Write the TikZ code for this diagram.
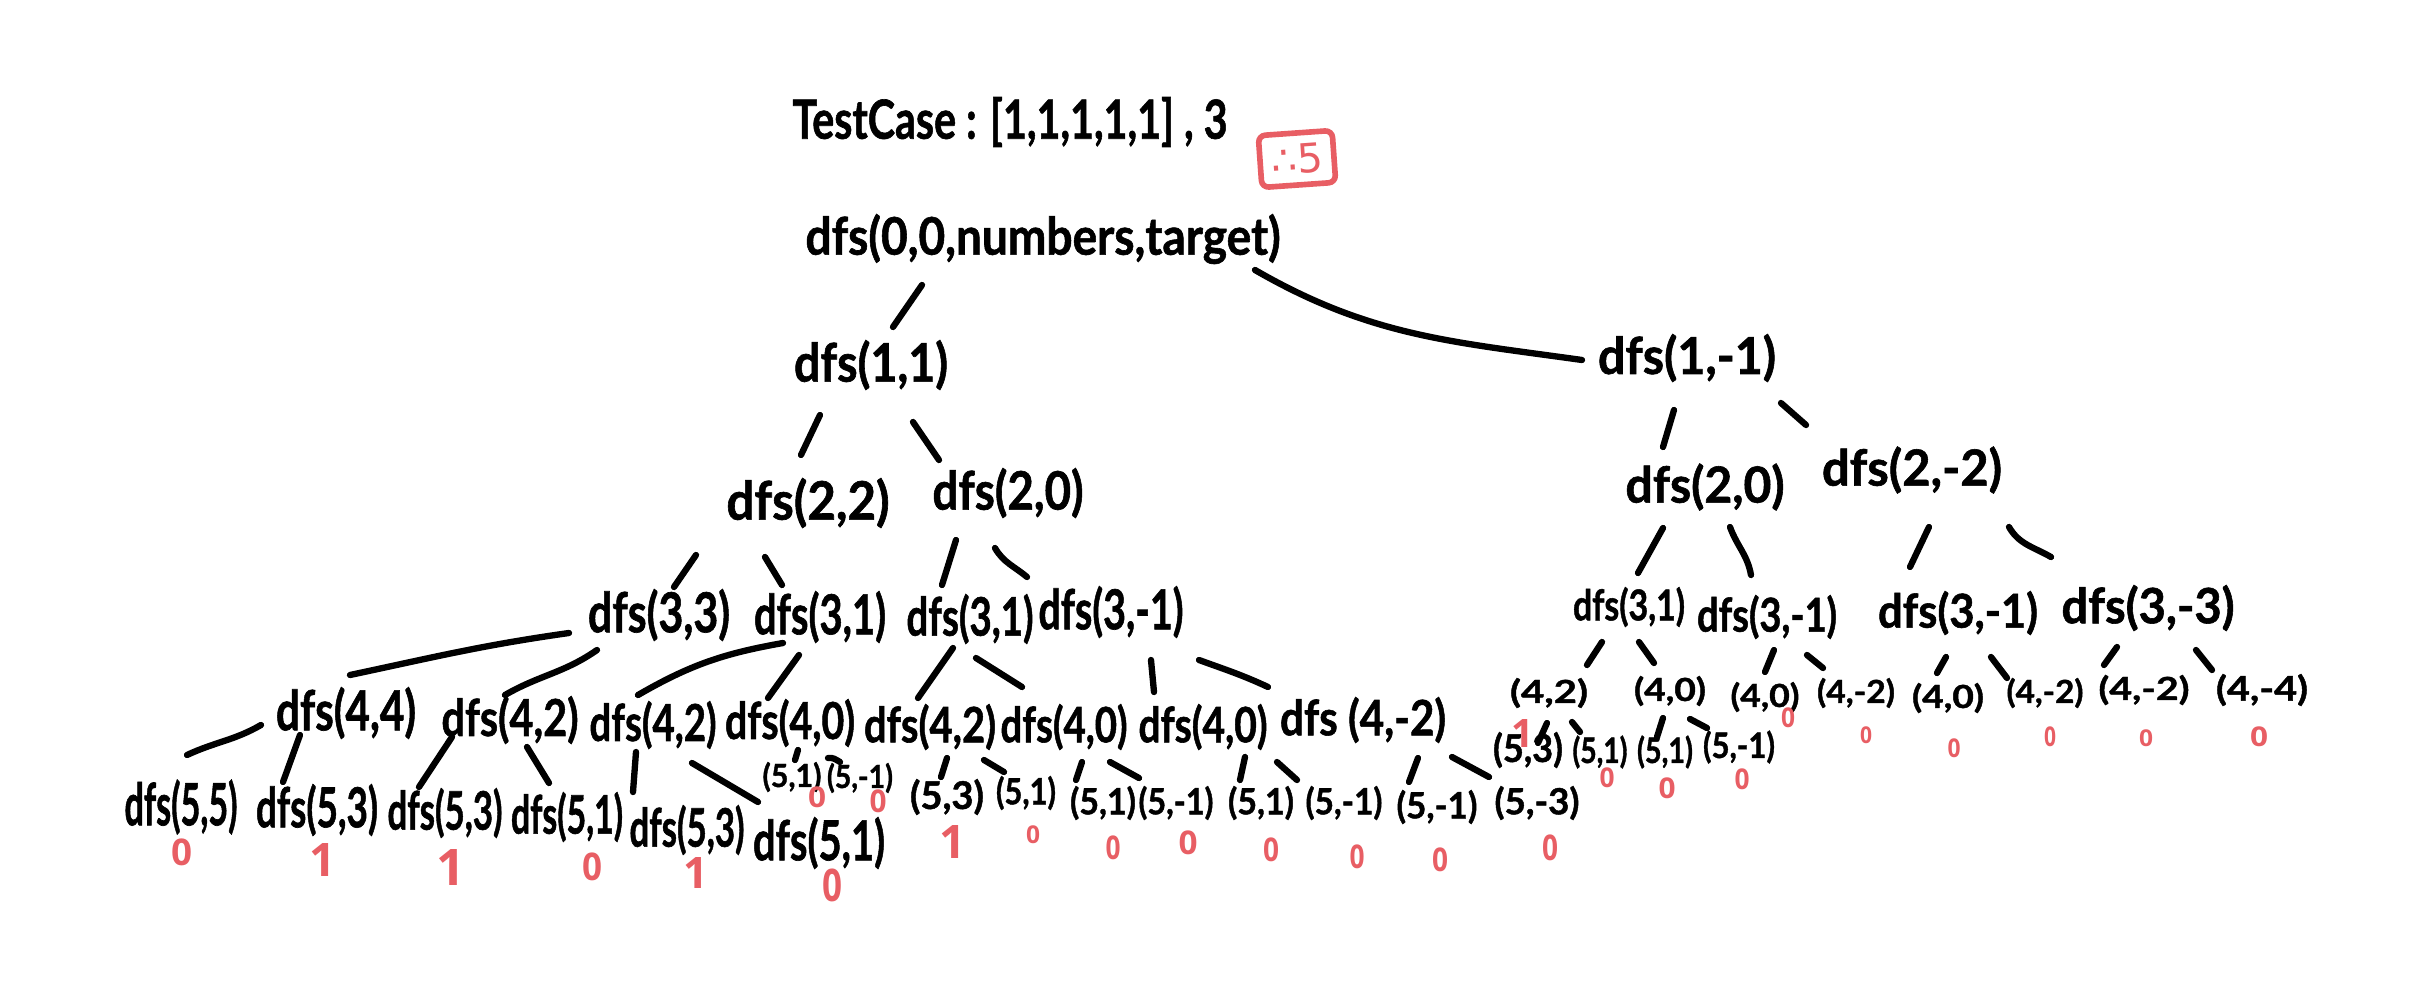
\documentclass[tikz,border=0pt]{standalone}
\usepackage{fontspec}
\setmainfont{Lato}[BoldFeatures={FakeBold=1.2}]
\newfontfamily\symfont{DejaVu Sans}
\newfontfamily\digfont{Open Sans}
\usepackage{graphicx}
\newlength\pxu
\setlength\pxu{0.01cm}
\newcommand\tx[3]{\resizebox*{#1\pxu}{#2\pxu}{\bfseries #3}}
\newcommand\myval[3]{\resizebox*{#1\pxu}{#2\pxu}{\digfont\bfseries #3}}
\newcommand\myone[1]{\resizebox*{!}{#1\pxu}{\digfont\bfseries 1}}
\newcommand\myseg[4]{\draw[conn] ([shift={(#2)}]#1.center) -- ([shift={(#4)}]#3.center);}
\definecolor{hred}{RGB}{232,94,100}
\begin{document}
\begin{tikzpicture}[x=0.01cm,y=-0.01cm,
  lbl/.style={inner sep=0pt, text=black},
  val/.style={inner sep=0pt, text=hred},
  conn/.style={line width=1.8pt, line cap=round, line join=round}]
\fill[white] (0,0) rectangle (2435,1000);
\path[use as bounding box] (0,0) rectangle (2435,1000);
% header
\node[lbl] (title) at (1010,122) {\tx{435}{50}{TestCase : [1,1,1,1,1] , 3}};
\node[draw=hred, line width=1.6pt, rounded corners=2pt, rotate=4, minimum width=74\pxu, minimum height=52\pxu, inner sep=0pt, text=hred] (ans) at (1297,159) {\resizebox*{!}{30\pxu}{\symfont ∴5}};
% level 0-2
\node[lbl] (n0) at (1043,239) {\tx{475}{50}{dfs(0,0,numbers,target)}};
\node[lbl] (n11) at (871,365) {\tx{154}{50}{dfs(1,1)}};
\node[lbl] (n1m) at (1687,358) {\tx{178}{48}{dfs(1,-1)}};
\node[lbl] (n22) at (808,503) {\tx{163}{50}{dfs(2,2)}};
\node[lbl] (n20) at (1008,493) {\tx{151}{50}{dfs(2,0)}};
\node[lbl] (n20r) at (1705,487) {\tx{159}{47}{dfs(2,0)}};
\node[lbl] (n2m2) at (1912,470) {\tx{180}{47}{dfs(2,-2)}};
% level 3
\node[lbl] (n33) at (659,615) {\tx{142}{52}{dfs(3,3)}};
\node[lbl] (n31a) at (820,617) {\tx{132}{52}{dfs(3,1)}};
\node[lbl] (n31b) at (970,619) {\tx{127}{50}{dfs(3,1)}};
\node[lbl] (n3m1a) at (1111,612) {\tx{145}{52}{dfs(3,-1)}};
\node[lbl] (n31c) at (1629,607) {\tx{112}{40}{dfs(3,1)}};
\node[lbl] (n3m1b) at (1767,617) {\tx{140}{44}{dfs(3,-1)}};
\node[lbl] (n3m1c) at (1958,613) {\tx{160}{44}{dfs(3,-1)}};
\node[lbl] (n3m3) at (2148,608) {\tx{173}{46}{dfs(3,-3)}};
% level 4 left
\node[lbl] (n44) at (346,713) {\tx{140}{52}{dfs(4,4)}};
\node[lbl] (n42a) at (510,720) {\tx{137}{48}{dfs(4,2)}};
\node[lbl] (n42b) at (653,725) {\tx{127}{48}{dfs(4,2)}};
\node[lbl] (n40a) at (790,723) {\tx{130}{48}{dfs(4,0)}};
\node[lbl] (n42c) at (930,727) {\tx{132}{46}{dfs(4,2)}};
\node[lbl] (n40b) at (1064,727) {\tx{127}{46}{dfs(4,0)}};
\node[lbl] (n40c) at (1203,727) {\tx{129}{46}{dfs(4,0)}};
\node[lbl] (n4m2) at (1363,720) {\tx{166}{46}{dfs (4,-2)}};
% level 4 right
\node[lbl] (r42) at (1549,693) {\tx{78}{30}{(4,2)}};
\node[lbl] (r40a) at (1670,691) {\tx{72}{30}{(4,0)}};
\node[lbl] (r40b) at (1765,697) {\tx{69}{30}{(4,0)}};
\node[lbl] (r4m2a) at (1856,693) {\tx{78}{30}{(4,-2)}};
\node[lbl] (r40c) at (1948,698) {\tx{72}{30}{(4,0)}};
\node[lbl] (r4m2b) at (2045,693) {\tx{77}{30}{(4,-2)}};
\node[lbl] (r4m2c) at (2144,690) {\tx{91}{30}{(4,-2)}};
\node[lbl] (r4m4) at (2262,690) {\tx{92}{32}{(4,-4)}};
% level 5 left
\node[lbl] (d55) at (181,807) {\tx{113}{55}{dfs(5,5)}};
\node[lbl] (d53a) at (317,810) {\tx{122}{52}{dfs(5,3)}};
\node[lbl] (d53b) at (445,813) {\tx{115}{50}{dfs(5,3)}};
\node[lbl] (d51a) at (567,817) {\tx{112}{50}{dfs(5,1)}};
\node[lbl] (d53c) at (687,830) {\tx{115}{50}{dfs(5,3)}};
\node[lbl] (d51b) at (819,843) {\tx{132}{52}{dfs(5,1)}};
\node[lbl] (s51a) at (792,777) {\tx{59}{30}{(5,1)}};
\node[lbl] (s5m1a) at (860,778) {\tx{66}{30}{(5,-1)}};
\node[lbl] (s53) at (947,797) {\tx{74}{36}{(5,3)}};
\node[lbl] (s51b) at (1026,793) {\tx{60}{34}{(5,1)}};
\node[lbl] (s51c) at (1103,803) {\tx{66}{34}{(5,1)}};
\node[lbl] (s5m1b) at (1176,803) {\tx{75}{34}{(5,-1)}};
\node[lbl] (s51d) at (1261,803) {\tx{66}{34}{(5,1)}};
\node[lbl] (s5m1c) at (1344,803) {\tx{77}{34}{(5,-1)}};
\node[lbl] (s5m1d) at (1437,807) {\tx{81}{34}{(5,-1)}};
\node[lbl] (s5m3) at (1537,803) {\tx{85}{34}{(5,-3)}};
% level 5 right
\node[lbl] (t53) at (1528,750) {\tx{70}{36}{(5,3)}};
\node[lbl] (t51a) at (1600,752) {\tx{55}{33}{(5,1)}};
\node[lbl] (t51b) at (1665,752) {\tx{56}{33}{(5,1)}};
\node[lbl] (t5m1) at (1739,747) {\tx{72}{33}{(5,-1)}};
% connectors
\myseg{n0}{-121,46}{n11}{22,-38}
\draw[conn] ([shift={(212,31)}]n0.center) to[out=-30,in=172] ([shift={(-105,2)}]n1m.center);
\myseg{n11}{-51,50}{n22}{-7,-48}
\myseg{n11}{42,57}{n20}{-69,-33}
\myseg{n1m}{-13,52}{n20r}{-42,-40}
\myseg{n1m}{94,45}{n2m2}{-106,-45}
\myseg{n22}{-112,52}{n33}{15,-28}
\myseg{n22}{-43,54}{n31a}{-38,-32}
\myseg{n20}{-52,47}{n31b}{-28,-34}
\draw[conn] ([shift={(-13,55)}]n20.center) to[out=-60,in=140] ([shift={(-84,-35)}]n3m1a.center);
\myseg{n20r}{-42,41}{n31c}{9,-34}
\draw[conn] ([shift={(25,40)}]n20r.center) to[out=-70,in=100] ([shift={(-16,-42)}]n3m1b.center);
\myseg{n2m2}{17,57}{n3m1c}{-48,-46}
\draw[conn] ([shift={(97,57)}]n2m2.center) to[out=-60,in=150] ([shift={(-97,-51)}]n3m3.center);
% level 3 -> 4 left
\draw[conn] ([shift={(-90,18)}]n33.center) to[out=188,in=12] ([shift={(4,-38)}]n44.center);
\draw[conn] ([shift={(-62,35)}]n33.center) to[out=215,in=30] ([shift={(-5,-25)}]n42a.center);
\draw[conn] ([shift={(-37,26)}]n31a.center) to[out=190,in=30] ([shift={(-15,-30)}]n42b.center);
\myseg{n31a}{-21,38}{n40a}{-22,-25}
\myseg{n31b}{-17,29}{n42c}{-12,-29}
\myseg{n31b}{6,39}{n40b}{-42,-40}
\myseg{n3m1a}{40,48}{n40c}{-49,-35}
\draw[conn] ([shift={(88,48)}]n3m1a.center) to[out=-20,in=155] ([shift={(-95,-33)}]n4m2.center);
% level 3 -> 4 right
\myseg{n31c}{-27,35}{r42}{38,-28}
\myseg{n31c}{10,35}{r40a}{-16,-28}
\myseg{n3m1b}{7,33}{r40b}{0,-25}
\myseg{n3m1b}{40,38}{r4m2a}{-33,-25}
\myseg{n3m1c}{-12,44}{r40c}{-11,-25}
\myseg{n3m1c}{33,44}{r4m2b}{-38,-15}
\myseg{n3m3}{-31,39}{r4m2c}{-40,-25}
\myseg{n3m3}{48,42}{r4m4}{-50,-20}
% level 4 -> 5 left
\draw[conn] ([shift={(-85,12)}]n44.center) to[out=210,in=25] ([shift={(6,-52)}]d55.center);
\myseg{n44}{-46,22}{d53a}{-34,-28}
\myseg{n42a}{-58,17}{d53b}{-26,-26}
\myseg{n42a}{17,27}{d51a}{-18,-34}
\myseg{n42b}{-17,27}{d53c}{-54,-38}
\myseg{n42b}{39,38}{d51b}{-61,-41}
\myseg{n40a}{8,27}{s51a}{3,-17}
\draw[conn] ([shift={(38,35)}]n40a.center) to[out=10,in=150] ([shift={(-20,-16)}]s5m1a.center);
\myseg{n42c}{17,31}{s53}{-6,-20}
\myseg{n42c}{54,33}{s51b}{-22,-21}
\myseg{n40b}{18,35}{s51c}{-27,-23}
\myseg{n40b}{46,35}{s5m1b}{-37,-25}
\myseg{n40c}{42,30}{s51d}{-21,-23}
\myseg{n40c}{74,35}{s5m1c}{-47,-23}
\myseg{n4m2}{55,38}{s5m1d}{-28,-25}
\myseg{n4m2}{89,37}{s5m3}{-48,-26}
% level 4 -> 5 right
\myseg{r42}{-2,30}{t53}{10,-7}
\myseg{r42}{23,29}{t51a}{-20,-20}
\myseg{r40a}{-7,27}{t51b}{-8,-15}
\myseg{r40a}{20,28}{t5m1}{-32,-19}
% values
\node[val] (v1) at (182,852) {\myval{21}{27}{0}};
\node[val] (v2) at (323,860) {\myone{33}};
\node[val] (v3) at (451,867) {\myone{36}};
\node[val] (v4) at (592,867) {\myval{20}{28}{0}};
\node[val] (v5) at (696,873) {\myone{31}};
\node[val] (v6) at (832,885) {\myval{20}{33}{0}};
\node[val] (v7) at (817,797) {\myval{18}{21}{0}};
\node[val] (v8) at (878,801) {\myval{17}{23}{0}};
\node[val] (v9) at (953,842) {\myone{33}};
\node[val] (v10) at (1033,835) {\myval{14}{18}{0}};
\node[val] (v11) at (1113,848) {\myval{15}{24}{0}};
\node[val] (v12) at (1188,843) {\myval{19}{24}{0}};
\node[val] (v13) at (1271,850) {\myval{16}{24}{0}};
\node[val] (v14) at (1357,857) {\myval{15}{24}{0}};
\node[val] (v15) at (1440,860) {\myval{16}{24}{0}};
\node[val] (v16) at (1550,848) {\myval{16}{26}{0}};
\node[val] (v17) at (1523,733) {\myone{28}};
\node[val] (v18) at (1607,778) {\myval{15}{20}{0}};
\node[val] (v19) at (1667,788) {\myval{17}{21}{0}};
\node[val] (v20) at (1742,779) {\myval{15}{21}{0}};
\node[val] (v21) at (1788,718) {\myval{14}{20}{0}};
\node[val] (v22) at (1866,735) {\myval{12}{17}{0}};
\node[val] (v23) at (1954,748) {\myval{13}{19}{0}};
\node[val] (v24) at (2050,737) {\myval{12}{20}{0}};
\node[val] (v25) at (2146,738) {\myval{14}{17}{0}};
\node[val] (v26) at (2259,737) {\myval{18}{20}{0}};
\end{tikzpicture}
\end{document}
